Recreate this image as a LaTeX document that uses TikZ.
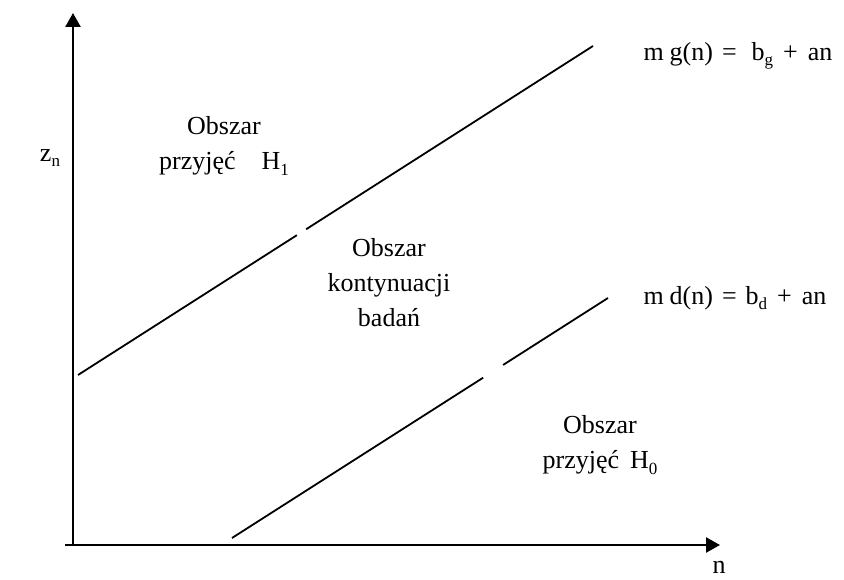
\documentclass[tikz,border=0pt]{standalone}
\usepackage{fontspec}
\setmainfont{Liberation Serif}
\usetikzlibrary{arrows.meta,calc}
\newcommand{\lowsub}[1]{\raisebox{-0.45ex}{\fontsize{17}{17}\selectfont #1}}
\newcommand{\hs}[1]{\hspace{#1pt}}

\begin{document}
\begin{tikzpicture}[
		x=1pt, y=1pt,
		axis/.style={line width=2.6pt, -{Triangle[length=14pt,width=15pt]}},
		bound/.style={line width=1.8pt},
		region/.style={font=\fontsize{26}{35}\selectfont, align=center},
		eqn/.style={font=\fontsize{26}{30}\selectfont, anchor=west},
	]
	\useasboundingbox (0,0) rectangle (844,579);

	% axes
	\coordinate (orig) at (73,34);
	\coordinate (xstart) at (65,34);
	\coordinate (xtip) at (720,34);
	\coordinate (ytip) at (73,566);
	\draw[axis] (xstart) -- (xtip);
	\draw[axis] ($(orig)+(0,-1.3)$) -- (ytip);

	% boundary lines (parallel, each broken once)
	\coordinate (up0) at (78,204);
	\coordinate (up1) at (593,533);
	\coordinate (lo0) at (232,41);
	\coordinate (lo1) at (608,281);

	\draw[bound] (up0) -- ($(up0)!0.425!(up1)$);
	\draw[bound] ($(up0)!0.443!(up1)$) -- (up1);
	\draw[bound] (lo0) -- ($(lo0)!0.668!(lo1)$);
	\draw[bound] ($(lo0)!0.721!(lo1)$) -- (lo1);

	% axis labels
	\node[region] (zlab) at (50,421) {z\lowsub{n}};
	\node[region] (nlab) at (719,12) {n};

	% regions
	\node[region] (acc1) at (224,433) {Obszar\\przyjęć\quad H\lowsub{1}};
	\node[region] (cont) at (389,296) {Obszar\\kontynuacji\\badań};
	\node[region] (acc0) at (600,134) {Obszar\\przyjęć\, H\lowsub{0}};

	% equations
	\node[eqn] (equp) at (640,523)
	{m\hs{6}g(n)\hs{9}=\hs{15}b\lowsub{g}\hs{10}+\hs{10}an};
	\node[eqn] (eqlo) at (640,281)
	{m\hs{6}d(n)\hs{9}=\hs{9}b\lowsub{d}\hs{10}+\hs{10}an};

\end{tikzpicture}
\end{document}
